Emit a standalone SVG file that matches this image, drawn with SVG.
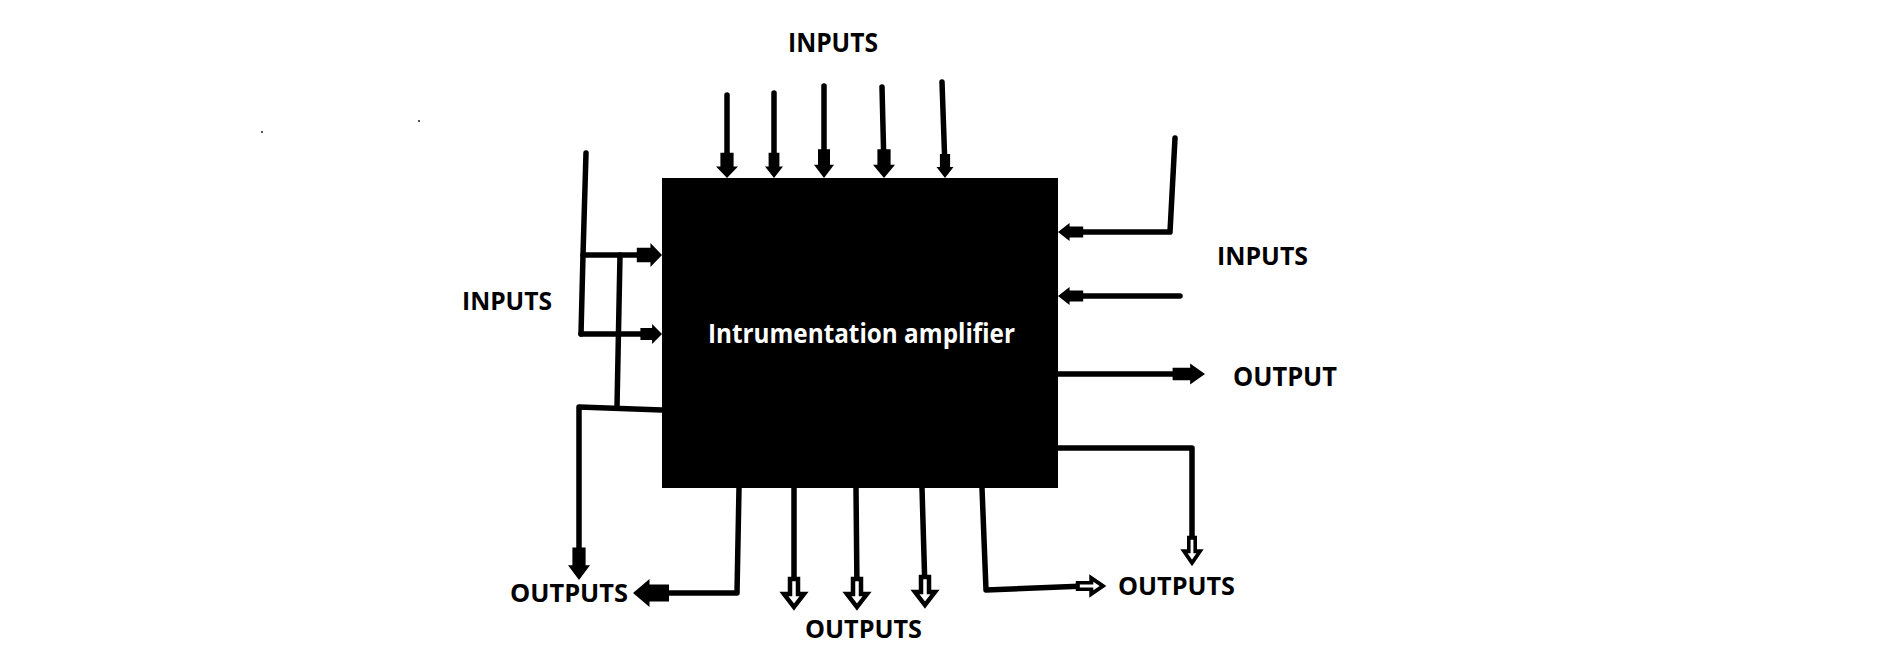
<svg xmlns="http://www.w3.org/2000/svg" width="1879" height="648" viewBox="0 0 1879 648">
<style>
.w{fill:none;stroke:#000;stroke-width:5.5;stroke-linejoin:round;stroke-linecap:round}
.lbl{font-family:"Open Sans","Liberation Sans",sans-serif;font-weight:bold;fill:#000}
.title{font-family:"Open Sans","Liberation Sans",sans-serif;font-weight:bold;fill:#fff}
.fh{fill:#000}
.oh{fill:#fff;stroke:#000;stroke-width:4.5;stroke-linejoin:miter}
</style>
<defs>
<path id="fhead" d="M0,0 L-11,-10 L-11,-6 L-24,-6 L-24,6 L-11,6 L-11,10 Z"/>
<path id="ohead" d="M0,0 L-13,-10 L-13,-4 L-28,-4 L-28,4 L-13,4 L-13,10 Z"/>
</defs>
<rect width="1879" height="648" fill="#fff"/>
<rect x="261" y="131" width="2" height="2" fill="#555"/>
<rect x="418" y="120" width="2" height="2" fill="#555"/>
<g id="amplifier">
<rect x="662" y="178" width="396" height="310" fill="#000"/>
<text class="title" x="708" y="343" font-size="26" textLength="307" lengthAdjust="spacingAndGlyphs">Intrumentation amplifier</text>
</g>
<g id="labels">
<text class="lbl" x="788" y="52" font-size="26" textLength="90" lengthAdjust="spacingAndGlyphs">INPUTS</text>
<text class="lbl" x="462" y="310" font-size="25" textLength="90" lengthAdjust="spacingAndGlyphs">INPUTS</text>
<text class="lbl" x="1217" y="265" font-size="25" textLength="91" lengthAdjust="spacingAndGlyphs">INPUTS</text>
<text class="lbl" x="1233" y="386" font-size="26" textLength="104" lengthAdjust="spacingAndGlyphs">OUTPUT</text>
<text class="lbl" x="510" y="602" font-size="25" textLength="118" lengthAdjust="spacingAndGlyphs">OUTPUTS</text>
<text class="lbl" x="1118" y="595" font-size="25" textLength="117" lengthAdjust="spacingAndGlyphs">OUTPUTS</text>
<text class="lbl" x="805" y="638" font-size="25" textLength="117" lengthAdjust="spacingAndGlyphs">OUTPUTS</text>
</g>
<g id="connectors">
<path class="w" d="M727,95 L727,168"/>
<path class="w" d="M774,93 L774,168"/>
<path class="w" d="M824,86 L824,168"/>
<path class="w" d="M882,87 L884,168"/>
<path class="w" d="M942,82 L945,168"/>
<use href="#fhead" class="fh" transform="translate(727,178) rotate(90) scale(1.05,1.1)"/>
<use href="#fhead" class="fh" transform="translate(774,178) rotate(90) scale(1.05,0.9)"/>
<use href="#fhead" class="fh" transform="translate(824,178) rotate(90) scale(1.2,1)"/>
<use href="#fhead" class="fh" transform="translate(884,178) rotate(90) scale(1.2,1.1)"/>
<use href="#fhead" class="fh" transform="translate(945,178) rotate(90) scale(1,0.85)"/>

<path class="w" d="M586,153 L583,255 L581,334"/>
<path class="w" d="M583,255 L650,255"/>
<path class="w" d="M581,334 L652,334"/>
<path class="w" d="M620,255 L617,407"/>
<path class="w" d="M662,410 L579,407 L579,568"/>
<use href="#fhead" class="fh" transform="translate(662,255) scale(1.05,1.2)"/>
<use href="#fhead" class="fh" transform="translate(662,334) scale(0.9,1)"/>
<use href="#fhead" class="fh" transform="translate(579,580) rotate(90) scale(1.35,1.1)"/>

<path class="w" d="M1175,138 L1170,232 L1068,232"/>
<path class="w" d="M1180,296 L1068,296"/>
<path class="w" d="M1058,374 L1195,374"/>
<path class="w" d="M1058,448 L1192,448 L1192,550"/>
<use href="#fhead" class="fh" transform="translate(1058,232) rotate(180) scale(1.05,0.9)"/>
<use href="#fhead" class="fh" transform="translate(1058,296) rotate(180) scale(1.05,0.9)"/>
<use href="#fhead" class="fh" transform="translate(1205,374) scale(1.35,1.05)"/>
<use href="#ohead" class="oh" transform="translate(1192,563) rotate(90) scale(0.9,0.8)"/>

<path class="w" d="M739,488 L737,593 L655,593"/>
<use href="#fhead" class="fh" transform="translate(633,593) rotate(180) scale(1.5,1.4)"/>
<path class="w" d="M794,488 L794,590"/>
<path class="w" d="M856,488 L857,590"/>
<path class="w" d="M922,488 L925,590"/>
<use href="#ohead" class="oh" transform="translate(794,607) rotate(90)"/>
<use href="#ohead" class="oh" transform="translate(857,607) rotate(90)"/>
<use href="#ohead" class="oh" transform="translate(925,605) rotate(90)"/>
<path class="w" d="M982,488 L986,590 L1085,586"/>
<use href="#ohead" class="oh" transform="translate(1103,586) scale(0.9,0.8)"/>
</g>
</svg>
